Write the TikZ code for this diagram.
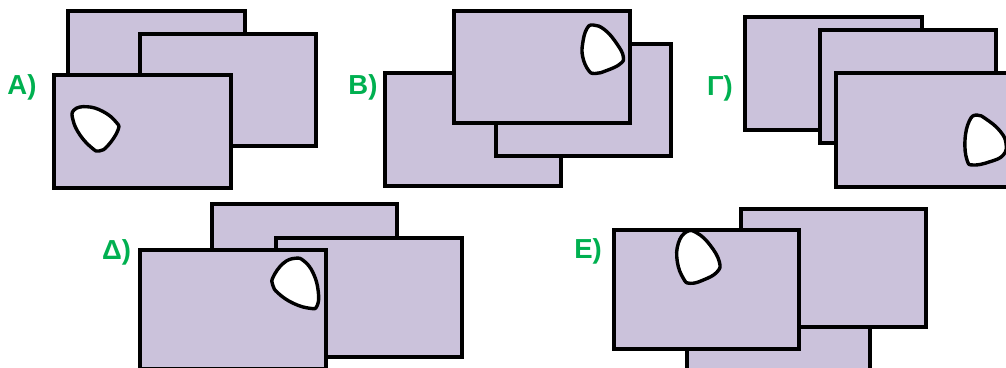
\documentclass[tikz,border=0pt]{standalone}
\usepackage{fontspec}
\setmainfont{Liberation Sans}
\definecolor{lav}{RGB}{203,194,219}
\definecolor{lblgreen}{RGB}{0,176,80}
\tikzset{
  sheet/.style={draw=black, line width=4pt, fill=lav, line join=miter},
  hole/.style={draw=black, line width=3.4pt, fill=white, line join=round},
  lbl/.style={text=lblgreen, font=\fontsize{27.5}{27.5}\selectfont\bfseries, inner sep=0pt}
}
\begin{document}
\begin{tikzpicture}[x=1pt,y=-1pt]
\useasboundingbox (0,0) rectangle (1006,367);
% ---- A
\draw[sheet] (68,11) rectangle (245,124);
\draw[sheet] (140,34) rectangle (316,146);
\draw[sheet] (54,75) rectangle (231,188);
\draw[hole] plot[smooth cycle, tension=0.75] coordinates {(74,110) (86.7,106.7) (103,111.5) (116,122) (118,130) (108,145.5) (99.3,151) (92,148) (80,135) (73,120)};
\node[lbl] (la) at (22,87) {Α)};
% ---- B
\draw[sheet] (385,73) rectangle (561,186);
\draw[sheet] (496,44) rectangle (671,155.5);
\draw[sheet] (454,11) rectangle (630,123);
\draw[hole] plot[smooth cycle, tension=0.75] coordinates {(593.3,25) (605,30) (617,44) (623.3,56.7) (620,64) (606.7,70.5) (595,73.5) (588.3,70) (582.7,56.7) (582.7,43.3) (586.7,29)};
\node[lbl] (lb) at (363,87.5) {Β)};
% ---- Gamma
\draw[sheet] (745,17) rectangle (921.5,130);
\draw[sheet] (820,30) rectangle (996,142.5);
\draw[sheet] (836,73) rectangle (1013,186.5);
\draw[hole] plot[smooth cycle, tension=0.75] coordinates {(976.7,115) (986.7,119.5) (1000,131) (1006,143.3) (1003.3,155) (990,161.7) (973.3,165) (967,160) (965,140) (969.3,121)};
\node[lbl] (lg) at (720,88) {Γ)};
% ---- Delta
\draw[sheet] (212,203.5) rectangle (396.5,322);
\draw[sheet] (276,237.5) rectangle (461.5,356.5);
\draw[sheet] (140,250) rectangle (325.5,369);
\draw[hole] plot[smooth cycle, tension=0.75] coordinates {(273.3,276.7) (283.3,263.3) (295,258.3) (304,261) (313.3,273.3) (318.3,291.7) (317,306) (310,308.3) (293.3,303.3) (278.3,293.3) (272.7,285)};
\node[lbl] (ld) at (116.5,252.5) {Δ)};
% ---- E
\draw[sheet] (687,300) rectangle (870,418);
\draw[sheet] (741,209) rectangle (926,326.5);
\draw[sheet] (614,230) rectangle (798.5,348.5);
\draw[hole] plot[smooth cycle, tension=0.75] coordinates {(686.7,231.7) (697,233) (710,245) (719.3,261.7) (717,272) (703.3,280) (690,283.3) (683.3,278.3) (677.3,261.7) (678.3,243.3)};
\node[lbl] (le) at (588,251.5) {Ε)};
\end{tikzpicture}
\end{document}
